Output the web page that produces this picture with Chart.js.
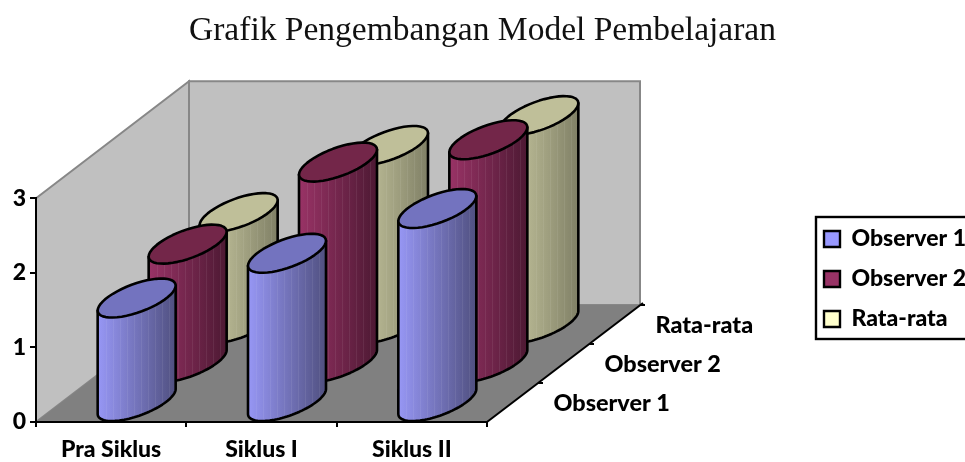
<!DOCTYPE html>
<html>
<head>
<meta charset="utf-8">
<title>Grafik Pengembangan Model Pembelajaran</title>
<script src="https://cdn.jsdelivr.net/npm/chart.js@4"></script>
<style>
  html, body { margin: 0; padding: 0; background: #fff; overflow: hidden; }
  canvas { display: block; }
</style>
</head>
<body>
<canvas id="chart" width="965" height="462"></canvas>
<script>
// Chart values
const categories = ['Pra Siklus', 'Siklus I', 'Siklus II'];
const depthLabels = ['Observer 1', 'Observer 2', 'Rata-rata'];
const observer1 = [1.4, 2.0, 2.6];
const observer2 = [1.6, 2.7, 3.0];
const rataRata = [1.5, 2.4, 2.8];

// Fake 3D look: how far the back wall sits from the front plane
const DEPTH_X = 153;
const DEPTH_Y = 117;
const CAP_HEIGHT = 15;   // half height of the cylinder ellipse
const CAP_TILT = 0.32;   // the ellipses lean up to the right
const LABEL_FONT = '900 23.4px Lato';

const sideTones = [
  { left: [151, 151, 245], right: [80, 80, 128], cap: '#7373bf' },
  { left: [153, 51, 102], right: [77, 25, 51], cap: '#732649' },
  { left: [207, 207, 166], right: [128, 128, 102], cap: '#bfbf99' }
];

function rgb(c) {
  return `rgb(${c[0]}, ${c[1]}, ${c[2]})`;
}

/**
 * Trace half or all of a leaning ellipse
 */
function traceEllipse(path, cx, cy, rx, from, to) {
  const steps = 48;
  for (let i = 0; i <= steps; i++) {
    const t = from + (to - from) * i / steps;
    const x = cx + rx * Math.cos(t);
    const y = cy - CAP_TILT * rx * Math.cos(t) + CAP_HEIGHT * Math.sin(t);
    path.lineTo(x, y);
  }
}

/**
 * Draw one cylinder between the value pixel and the base pixel
 */
function drawCylinder(ctx, cx, topY, baseY, rx, tone) {
  const lean = CAP_TILT * rx;

  const side = new Path2D();
  side.moveTo(cx - rx, topY + lean);
  traceEllipse(side, cx, baseY, rx, Math.PI, 0);
  side.lineTo(cx + rx, topY - lean);
  side.closePath();

  const gradient = ctx.createLinearGradient(cx - rx, 0, cx + rx, 0);
  gradient.addColorStop(0, rgb(tone.left));
  gradient.addColorStop(1, rgb(tone.right));
  ctx.fillStyle = gradient;
  ctx.fill(side);

  // Faint vertical bands on the side
  ctx.save();
  ctx.clip(side);
  ctx.lineWidth = 1;
  ctx.strokeStyle = 'rgba(255, 255, 255, 0.07)';
  for (let x = cx - rx + 8; x < cx + rx; x += 7) {
    ctx.beginPath();
    ctx.moveTo(Math.round(x) + 0.5, topY - lean - CAP_HEIGHT);
    ctx.lineTo(Math.round(x) + 0.5, baseY + CAP_HEIGHT + lean);
    ctx.stroke();
  }
  ctx.restore();

  ctx.strokeStyle = '#000';
  ctx.lineWidth = 2.6;
  ctx.lineJoin = 'round';
  ctx.stroke(side);

  const cap = new Path2D();
  traceEllipse(cap, cx, topY, rx, 0, Math.PI * 2);
  cap.closePath();
  ctx.fillStyle = tone.cap;
  ctx.fill(cap);
  ctx.stroke(cap);
}

// Walls and floor behind the scales
const boxPlugin = {
  id: 'box',
  beforeDraw(chart) {
    const { ctx, chartArea: a } = chart;
    const backLeft = a.left + DEPTH_X;
    const backRight = a.right + DEPTH_X;
    const backTop = a.top - DEPTH_Y;
    const backBottom = a.bottom - DEPTH_Y;

    ctx.save();
    ctx.lineWidth = 2;
    ctx.strokeStyle = '#878787';
    ctx.fillStyle = '#c0c0c0';

    ctx.beginPath();
    ctx.moveTo(a.left, a.top);
    ctx.lineTo(backLeft, backTop);
    ctx.lineTo(backLeft, backBottom);
    ctx.lineTo(a.left, a.bottom);
    ctx.closePath();
    ctx.fill();
    ctx.stroke();

    ctx.beginPath();
    ctx.rect(backLeft, backTop, backRight - backLeft, backBottom - backTop);
    ctx.fill();
    ctx.stroke();

    ctx.beginPath();
    ctx.moveTo(a.left, a.bottom);
    ctx.lineTo(a.right, a.bottom);
    ctx.lineTo(backRight, backBottom);
    ctx.lineTo(backLeft, backBottom);
    ctx.closePath();
    ctx.fillStyle = '#808080';
    ctx.fill();

    // Depth axis with its ticks and labels
    ctx.beginPath();
    ctx.moveTo(a.right, a.bottom);
    ctx.lineTo(backRight + 3, backBottom - 2);
    ctx.strokeStyle = '#000';
    ctx.stroke();

    ctx.fillStyle = '#000';
    ctx.font = LABEL_FONT;
    ctx.textBaseline = 'middle';
    depthLabels.forEach((label, i) => {
      const tickX = a.right + DEPTH_X * (i + 1) / depthLabels.length;
      const tickY = a.bottom - DEPTH_Y * (i + 1) / depthLabels.length;
      ctx.beginPath();
      ctx.moveTo(tickX, tickY);
      ctx.lineTo(tickX + 5, tickY);
      ctx.stroke();

      const midX = a.right + DEPTH_X * (i + 0.5) / depthLabels.length;
      const midY = a.bottom - DEPTH_Y * (i + 0.5) / depthLabels.length;
      ctx.fillText(label, midX + 41, midY + 1);
    });
    ctx.restore();
  },

  // The library's bars are replaced by cylinders, back row first
  beforeDatasetsDraw(chart) {
    const { ctx } = chart;
    const count = chart.data.datasets.length;
    ctx.save();
    for (let d = count - 1; d >= 0; d--) {
      const offsetX = DEPTH_X * (d + 0.5) / count;
      const offsetY = DEPTH_Y * (d + 0.5) / count;
      chart.getDatasetMeta(d).data.forEach(bar => {
        drawCylinder(ctx, bar.x + offsetX, bar.y - offsetY, bar.base - offsetY, bar.width / 2, sideTones[d]);
      });
    }
    ctx.restore();
    return false;
  },

  // The legend claims the whole strip right of the plot, then moves to its box
  beforeLayout(chart) {
    const legend = chart.legend;
    const fit = legend.fit;
    legend.fit = function () {
      fit.call(this);
      this.width = 478;
    };
  },

  afterLayout(chart) {
    chart.legend.left = 807;
    chart.legend.top = 210.5;
  },

  afterDraw(chart) {
    const { ctx } = chart;
    ctx.save();
    ctx.strokeStyle = '#000';
    ctx.lineWidth = 2.4;
    ctx.strokeRect(816, 217, 160, 122);
    ctx.restore();
  }
};

const datasetStyle = { grouped: false, barThickness: 78, borderColor: '#000', borderWidth: 2.4 };

new Chart(document.getElementById('chart'), {
  type: 'bar',
  data: {
    labels: categories,
    datasets: [
      { label: depthLabels[0], data: observer1, backgroundColor: '#9999ff', ...datasetStyle },
      { label: depthLabels[1], data: observer2, backgroundColor: '#993366', ...datasetStyle },
      { label: depthLabels[2], data: rataRata, backgroundColor: '#ffffcc', ...datasetStyle }
    ]
  },
  options: {
    responsive: false,
    animation: false,
    scales: {
      x: {
        afterFit(scale) { scale.height = 40; },
        grid: { offset: true, drawOnChartArea: false, color: '#000', lineWidth: 2, tickLength: 5 },
        border: { color: '#000', width: 2 },
        ticks: { color: '#000', padding: 9, maxRotation: 0, font: { family: 'Lato', weight: '900', size: 23 } }
      },
      y: {
        min: 0,
        max: 3,
        afterFit(scale) { scale.width = 36; },
        grid: { drawOnChartArea: false, color: '#000', lineWidth: 2, tickLength: 6 },
        border: { color: '#000', width: 2 },
        ticks: { stepSize: 1, color: '#000', padding: 4, font: { family: 'Lato', weight: '900', size: 23 } }
      }
    },
    plugins: {
      title: {
        display: true,
        text: 'Grafik Pengembangan Model Pembelajaran',
        color: '#111',
        font: { family: 'Liberation Serif', weight: 'normal', size: 33.5 },
        padding: { top: 11, bottom: 147 }
      },
      legend: {
        position: 'right',
        align: 'start',
        labels: {
          color: '#000',
          boxWidth: 16,
          boxHeight: 16,
          padding: 17,
          font: { family: 'Lato', weight: '900', size: 23 }
        }
      },
      tooltip: { enabled: false }
    }
  },
  plugins: [boxPlugin]
});
</script>
</body>
</html>
